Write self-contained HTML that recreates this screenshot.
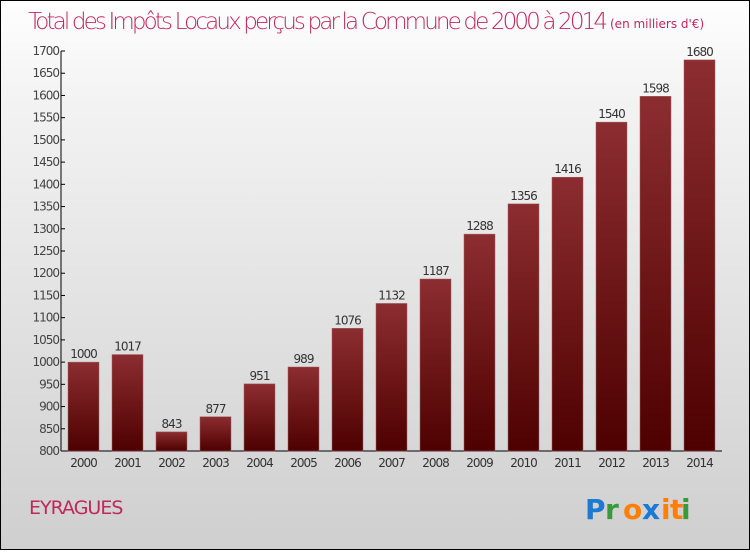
<!DOCTYPE html>
<html><head><meta charset="utf-8"><style>
html,body{margin:0;padding:0}
body{width:750px;height:550px;overflow:hidden;font-family:"DejaVu Sans","Liberation Sans",sans-serif}
#c{position:absolute;left:0;top:0;width:748px;height:548px;border:1px solid #000;background:linear-gradient(#fefefe,#f2f2f2 20%,#cfcfcf)}
</style></head><body>
<div id="c">
<svg width="750" height="550">
<defs><linearGradient id="g" x1="0" y1="0" x2="0" y2="1"><stop offset="0" stop-color="#8c2d31"/><stop offset="1" stop-color="#4e0000"/></linearGradient></defs>
<text x="27" y="28" font-size="23" fill="#c0285a" font-family="DejaVu Sans" font-weight="200" textLength="580">Total des Impôts Locaux perçus par la Commune de 2000 à 2014</text>
<text x="609" y="27" font-size="12" fill="#c0285a">(en milliers d'€)</text>
<g id="axes"></g><g id="bars"></g>
<text x="28" y="513" font-size="19" fill="#c0285a" letter-spacing="-1">EYRAGUES</text>
<g font-size="28" font-family="DejaVu Sans" font-weight="bold">
<text x="584" y="518" fill="#1a7ad4">P</text><text x="604" y="518" fill="#3a9a3a">r</text><text x="622" y="518" fill="#ff7f00">o</text><text x="641" y="518" fill="#1a7ad4">x</text><text x="660" y="518" fill="#ff7f00">i</text><text x="669" y="518" fill="#ff7f00">t</text><text x="680" y="518" fill="#3a9a3a">i</text>
</g>
</svg></div>
<script>
const years=["2000","2001","2002","2003","2004","2005","2006","2007","2008","2009","2010","2011","2012","2013","2014"];
const values=[1000,1017,843,877,951,989,1076,1132,1187,1288,1356,1416,1540,1598,1680];
const ticks=[800,850,900,950,1000,1050,1100,1150,1200,1250,1300,1350,1400,1450,1500,1550,1600,1650,1700];
const NS="http://www.w3.org/2000/svg";
const y0=450,y1=50,vmin=800,vmax=1700,x0=60,x1=721;
const y=v=>y0-(v-vmin)/(vmax-vmin)*(y0-y1);
const x=i=>67+i*44;
function el(t,a,p){const e=document.createElementNS(NS,t);for(const k in a)e.setAttribute(k,a[k]);p.appendChild(e);return e;}
const ax=document.getElementById('axes'),bg=document.getElementById('bars');
let l=el('line',{x1:x0,y1:y1,x2:x0,y2:y0,stroke:'#000'},ax);


l=el('line',{x1:x0,y1:y0,x2:x1,y2:y0,stroke:'#000'},ax);


ticks.forEach(t=>{
 el('line',{x1:x0,y1:y(t),x2:x0+4,y2:y(t),stroke:'#000'},ax);
 const tx=el('text',{x:x0-2,y:y(t)+4,'font-size':12,'text-anchor':'end',fill:'#444','letter-spacing':'-1'},ax);
 tx.textContent=t;
 
 
});
years.forEach((yr,i)=>{
 const r=el('rect',{x:x(i),y:y(values[i]),width:31,height:y0-y(values[i]),fill:'url(#g)',stroke:'#a06060','stroke-width':0.5},bg);
 
 
 const v=el('text',{x:x(i)+15.5,y:y(values[i])-4,'font-size':12,'text-anchor':'middle',fill:'#333','letter-spacing':'-1'},bg);
 v.textContent=values[i];
 
 
 const xl=el('text',{x:x(i)+15.5,y:466,'font-size':12,'text-anchor':'middle',fill:'#333','letter-spacing':'-1'},ax);
 xl.textContent=yr;
 
 
});
</script>
</body></html>
